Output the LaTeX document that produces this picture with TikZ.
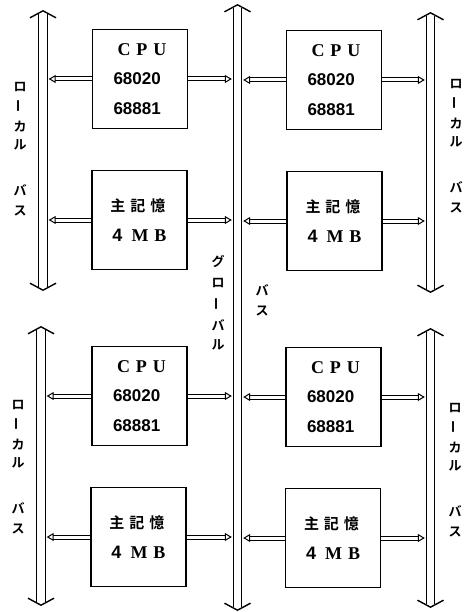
\documentclass[tikz,border=0pt]{standalone}
\usepackage{fontspec}
\newfontfamily\jp{Noto Sans CJK JP}[BoldFont={* Bold}]
\newfontfamily\numf{Liberation Sans}
\newfontfamily\serf{Liberation Serif}
\usetikzlibrary{calc,arrows.meta}
\tikzset{
  box/.style={draw, line width=1.3pt, minimum width=95pt, minimum height=99pt, inner sep=0pt, align=left, font=\fontsize{17}{29.5}\selectfont},
  busbox/.style={inner sep=0pt, minimum width=11pt},
  busline/.style={draw, line width=1.2pt, double=white, double distance=7.5pt},
  chev/.style={draw, line width=1.4pt, line join=miter},
  conn/.style={line width=1pt, double=white, double distance=3pt, -{Triangle[open,length=7pt,width=8pt]}},
  lab/.style={inner sep=0pt, font=\jp\bfseries\fontsize{13}{13}\selectfont},
}
\newcommand\busends[1]{%
  \draw[busline] ($(#1.north)+(0,3)$) -- ($(#1.south)+(0,-3)$);
  \draw[chev] ($(#1.north)+(-13,7)$) -- (#1.north) -- ($(#1.north)+(13,7)$);
  \draw[chev] ($(#1.south)+(-13,-7)$) -- (#1.south) -- ($(#1.south)+(13,-7)$);
}
\newcommand\cputext{\hspace*{4pt}{\serf\bfseries\fontsize{18}{29.5}\selectfont C\hspace{6pt}P\hspace{6pt}U}\\{\numf\bfseries 68020}\\{\numf\bfseries 68881}}
\newcommand\memtext{\hspace*{-2pt}{\jp\bfseries\fontsize{15}{30}\selectfont 主\hspace{5pt}記\hspace{5pt}憶}\\{\fontsize{18}{30}\selectfont{\numf\bfseries 4}\hspace{9pt}{\serf\bfseries M\hspace{6pt}B}}}
\begin{document}
\begin{tikzpicture}[x=1pt,y=-1pt]
\useasboundingbox (0,0) rectangle (466,612);
% buses
\node[busbox, minimum height=605pt] (g) at (237.5,307.5) {};
\node[busbox, minimum height=279pt] (lb1) at (43,150.5) {};
\node[busbox, minimum height=278pt] (lb2) at (41,466) {};
\node[busbox, minimum height=279pt] (rb1) at (430.5,152.5) {};
\node[busbox, minimum height=278pt] (rb2) at (430.5,468) {};
\busends{g}
\busends{lb1}
\busends{lb2}
\busends{rb1}
\busends{rb2}
% boxes
\node[box] (tlc) at (140,79) {\cputext};
\node[box] (tlm) at (139.5,220) {\memtext};
\node[box] (trc) at (334,80) {\cputext};
\node[box] (trm) at (334.5,221) {\memtext};
\node[box] (blc) at (139.5,396) {\cputext};
\node[box] (blm) at (138.5,537) {\memtext};
\node[box] (brc) at (333.5,397) {\cputext};
\node[box] (brm) at (333,538) {\memtext};
% connectors
\foreach \b/\l/\r in {tlc/lb1/g, tlm/lb1/g, blc/lb2/g, blm/lb2/g, trc/g/rb1, trm/g/rb1, brc/g/rb2, brm/g/rb2}{
  \draw[conn] (\b.west) -- (\l.east |- \b.west);
  \draw[conn] (\b.east) -- (\r.west |- \b.east);
}
% local bus labels
\foreach \x/\y/\n in {20/0/ltl, 456/-3/ltr, 18/318/lbl, 455/321/lbr}{
  \node[lab] (\n-1) at (\x,87+\y) {ロ};
  \node[lab, rotate=90] (\n-2) at (\x,106+\y) {ー};
  \node[lab] (\n-3) at (\x,127+\y) {カ};
  \node[lab] (\n-4) at (\x,145+\y) {ル};
  \node[lab] (\n-5) at (\x,190+\y) {バ};
  \node[lab] (\n-6) at (\x,211+\y) {ス};
}
% global bus label
\node[lab] (gl-1) at (218,261) {グ};
\node[lab] (gl-2) at (218,283) {ロ};
\node[lab, rotate=90] (gl-3) at (218,304) {ー};
\node[lab] (gl-4) at (218,325) {バ};
\node[lab] (gl-5) at (218,345) {ル};
\node[lab] (gr-1) at (262,290) {バ};
\node[lab] (gr-2) at (262,311) {ス};
\end{tikzpicture}
\end{document}
